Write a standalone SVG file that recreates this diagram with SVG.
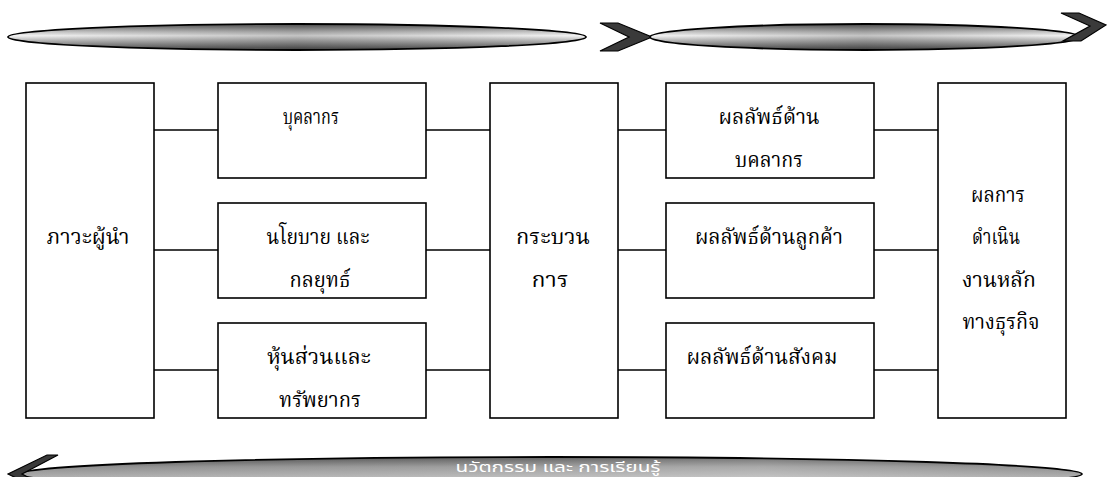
<svg xmlns="http://www.w3.org/2000/svg" width="1107" height="477" viewBox="0 0 1107 477">
<defs>
<linearGradient id="lens" x1="0" y1="0" x2="0" y2="1">
<stop offset="0" stop-color="#5e5e5e"/>
<stop offset="0.3" stop-color="#c8c8c8"/>
<stop offset="0.45" stop-color="#f4f4f4"/>
<stop offset="0.62" stop-color="#bdbdbd"/>
<stop offset="1" stop-color="#4e4e4e"/>
</linearGradient>
<linearGradient id="shade" x1="0" y1="0" x2="1" y2="0">
<stop offset="0" stop-color="#000" stop-opacity="0"/>
<stop offset="0.5" stop-color="#000" stop-opacity="0.2"/>
<stop offset="1" stop-color="#000" stop-opacity="0"/>
</linearGradient>
<linearGradient id="bottomLens" gradientUnits="userSpaceOnUse" x1="0" y1="456" x2="0" y2="480">
<stop offset="0" stop-color="#3c3c3c"/>
<stop offset="0.45" stop-color="#8e8e8e"/>
<stop offset="1" stop-color="#b8b8b8"/>
</linearGradient>
<linearGradient id="bottomShade" x1="0" y1="0" x2="1" y2="0">
<stop offset="0" stop-color="#fff" stop-opacity="0"/>
<stop offset="0.7" stop-color="#fff" stop-opacity="0.25"/>
<stop offset="1" stop-color="#fff" stop-opacity="0"/>
</linearGradient>
<style>
.box{fill:#fff;stroke:#000;stroke-width:1.6}
.con line{stroke:#000;stroke-width:1.6}
.t{font-family:"Angsana New","Noto Serif Thai","Noto Sans Thai Looped","Norasi","Kinnari","Laksaman","Noto Sans Thai","DejaVu Serif","Liberation Serif",serif;font-size:21px;fill:#000;text-anchor:middle}
.chev{fill:#3a3a3a;stroke:#000;stroke-width:1.2;stroke-linejoin:miter}
.bt{font-family:"Noto Sans Thai","Loma","Garuda","Tahoma","DejaVu Sans","Liberation Sans",sans-serif;font-size:14px;fill:#fff;text-anchor:middle}
</style>
</defs>
<rect width="1107" height="477" fill="#fff"/>

<g id="top-arrow-left">
<ellipse cx="297" cy="37" rx="289" ry="13" fill="url(#lens)" stroke="#000" stroke-width="1.8"/>
<ellipse cx="297" cy="37" rx="288" ry="12" fill="url(#shade)"/>
<polygon class="chev" points="600,23 618,23 652,37 618,51 600,51 629,37"/>
</g>
<g id="top-arrow-right">
<ellipse cx="865" cy="37" rx="215" ry="13" fill="url(#lens)" stroke="#000" stroke-width="1.8"/>
<ellipse cx="865" cy="37" rx="214" ry="12" fill="url(#shade)"/>
<polygon class="chev" points="1061,13 1079,13 1106,25 1081,41 1063,41 1090,26"/>
</g>

<g id="bottom-arrow">
<ellipse cx="551" cy="474" rx="531" ry="17" fill="url(#bottomLens)" stroke="#000" stroke-width="1.8"/>
<ellipse cx="551" cy="474" rx="530" ry="16" fill="url(#bottomShade)"/>
<polygon class="chev" points="58,455 47,455 8,474 47,493 58,493 22,474"/>
<text class="bt" x="558" y="472" textLength="205" lengthAdjust="spacingAndGlyphs">นวัตกรรม และ การเรียนรู้</text>
</g>

<g class="con" id="connectors">
<line x1="154" y1="130" x2="218" y2="130"/>
<line x1="154" y1="250" x2="218" y2="250"/>
<line x1="154" y1="370" x2="218" y2="370"/>
<line x1="426" y1="130" x2="490" y2="130"/>
<line x1="426" y1="250" x2="490" y2="250"/>
<line x1="426" y1="370" x2="490" y2="370"/>
<line x1="618" y1="130" x2="666" y2="130"/>
<line x1="618" y1="250" x2="666" y2="250"/>
<line x1="618" y1="370" x2="666" y2="370"/>
<line x1="874" y1="130" x2="938" y2="130"/>
<line x1="874" y1="250" x2="938" y2="250"/>
<line x1="874" y1="370" x2="938" y2="370"/>
</g>

<g id="leadership">
<rect class="box" x="26" y="83" width="128" height="335"/>
<text class="t" x="88" y="244" textLength="83" lengthAdjust="spacingAndGlyphs">ภาวะผู้นำ</text>
</g>
<g id="personnel">
<rect class="box" x="218" y="83" width="208" height="95"/>
<text class="t" x="311" y="124" textLength="56" lengthAdjust="spacingAndGlyphs">บุคลากร</text>
</g>
<g id="policy">
<rect class="box" x="218" y="203" width="208" height="95"/>
<text class="t" x="318" y="244" textLength="103" lengthAdjust="spacingAndGlyphs">นโยบาย และ</text>
<text class="t" x="320" y="287" textLength="61" lengthAdjust="spacingAndGlyphs">กลยุทธ์</text>
</g>
<g id="partners">
<rect class="box" x="218" y="323" width="208" height="95"/>
<text class="t" x="319" y="364" textLength="104" lengthAdjust="spacingAndGlyphs">หุ้นส่วนและ</text>
<text class="t" x="320" y="407" textLength="82" lengthAdjust="spacingAndGlyphs">ทรัพยากร</text>
</g>
<g id="process">
<rect class="box" x="490" y="83" width="128" height="335"/>
<text class="t" x="553" y="244" textLength="74" lengthAdjust="spacingAndGlyphs">กระบวน</text>
<text class="t" x="550" y="287" textLength="37" lengthAdjust="spacingAndGlyphs">การ</text>
</g>
<g id="result-personnel">
<rect class="box" x="666" y="83" width="208" height="95"/>
<text class="t" x="769" y="124" textLength="101" lengthAdjust="spacingAndGlyphs">ผลลัพธ์ด้าน</text>
<text class="t" x="769" y="167" textLength="68" lengthAdjust="spacingAndGlyphs">บคลากร</text>
</g>
<g id="result-customer">
<rect class="box" x="666" y="203" width="208" height="95"/>
<text class="t" x="769" y="244" textLength="148" lengthAdjust="spacingAndGlyphs">ผลลัพธ์ด้านลูกค้า</text>
</g>
<g id="result-society">
<rect class="box" x="666" y="323" width="208" height="95"/>
<text class="t" x="762" y="364" textLength="151" lengthAdjust="spacingAndGlyphs">ผลลัพธ์ด้านสังคม</text>
</g>
<g id="business-results">
<rect class="box" x="938" y="83" width="128" height="335"/>
<text class="t" x="998" y="202" textLength="54" lengthAdjust="spacingAndGlyphs">ผลการ</text>
<text class="t" x="996" y="244" textLength="48" lengthAdjust="spacingAndGlyphs">ดำเนิน</text>
<text class="t" x="999" y="287" textLength="74" lengthAdjust="spacingAndGlyphs">งานหลัก</text>
<text class="t" x="1001" y="329" textLength="77" lengthAdjust="spacingAndGlyphs">ทางธุรกิจ</text>
</g>
</svg>
